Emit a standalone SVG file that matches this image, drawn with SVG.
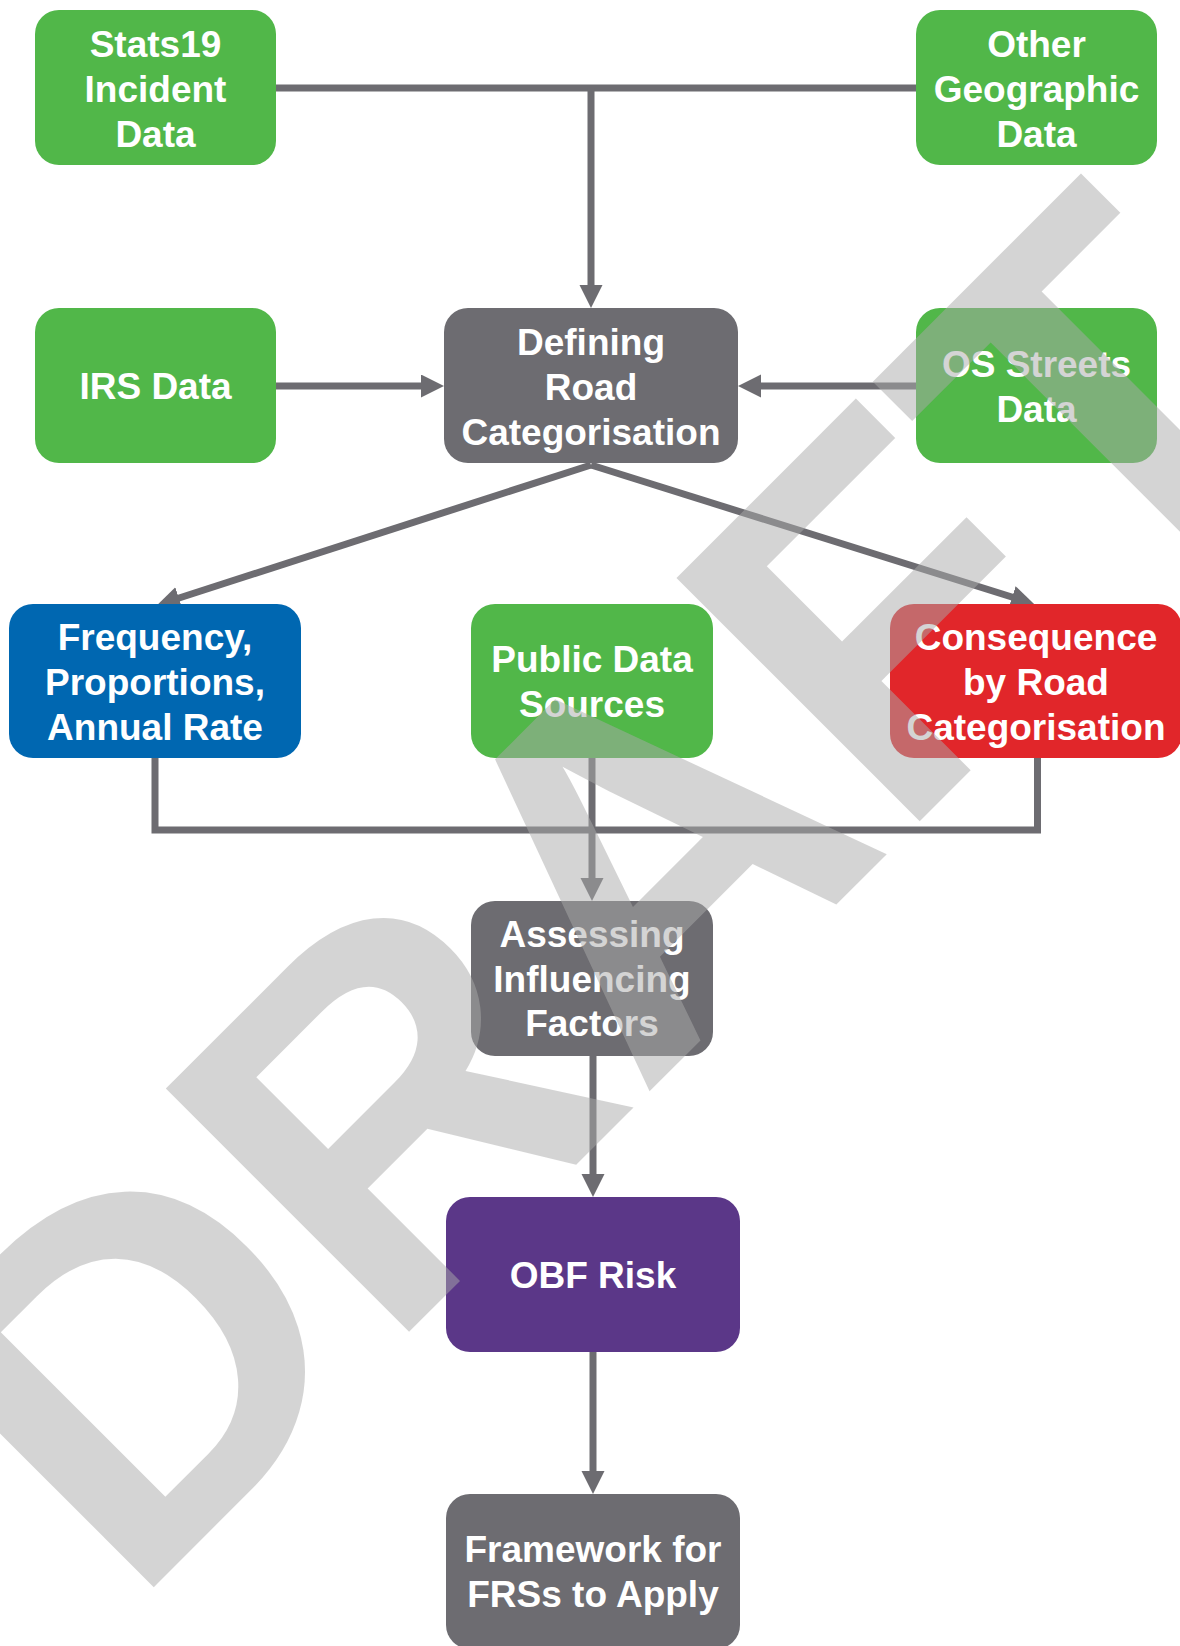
<svg xmlns="http://www.w3.org/2000/svg" width="1180" height="1646" viewBox="0 0 1180 1646">
<style>
.box{stroke:none}
.green{fill:#51b749}
.gray{fill:#6d6c71}
.blue{fill:#0067b1}
.red{fill:#e1262a}
.purple{fill:#5b3788}
.lbl{font-family:"Liberation Sans",Arial,sans-serif;font-weight:bold;font-size:37px;fill:#ffffff;text-anchor:middle}
.conn{fill:none;stroke:#6d6c71;stroke-width:7}
.wm{font-family:"Liberation Sans",Arial,sans-serif;font-weight:bold;font-size:500px;fill:#a9a9a9;fill-opacity:0.5}
</style>
<defs>
<marker id="ah" markerUnits="userSpaceOnUse" markerWidth="24" markerHeight="24" refX="3" refY="11.5" orient="auto">
<path d="M0,0 L23,11.5 L0,23 z" fill="#6d6c71"/>
</marker>
</defs>
<rect width="1180" height="1646" fill="#ffffff"/>
<g id="connectors">
<path class="conn" d="M276,88 H916"/>
<path class="conn" d="M591,88 V288" marker-end="url(#ah)"/>
<path class="conn" d="M276,386 H424" marker-end="url(#ah)"/>
<path class="conn" d="M916,386 H758" marker-end="url(#ah)"/>
<path class="conn" d="M591,465 L176,599" marker-end="url(#ah)"/>
<path class="conn" d="M591,465 L1015,598" marker-end="url(#ah)"/>
<path class="conn" d="M155,758 V830 H1037.5 V758"/>
<path class="conn" d="M592,758 V881" marker-end="url(#ah)"/>
<path class="conn" d="M593,1056 V1177" marker-end="url(#ah)"/>
<path class="conn" d="M593,1352 V1474" marker-end="url(#ah)"/>
</g>
<g id="stats19">
<rect class="box green" x="35" y="10" width="241" height="155" rx="24"/>
<text class="lbl" x="155.5" y="57">Stats19</text>
<text class="lbl" x="155.5" y="102">Incident</text>
<text class="lbl" x="155.5" y="147">Data</text>
</g>
<g id="other-geographic">
<rect class="box green" x="916" y="10" width="241" height="155" rx="24"/>
<text class="lbl" x="1036.5" y="57">Other</text>
<text class="lbl" x="1036.5" y="102">Geographic</text>
<text class="lbl" x="1036.5" y="147">Data</text>
</g>
<g id="irs-data">
<rect class="box green" x="35" y="308" width="241" height="155" rx="24"/>
<text class="lbl" x="155.5" y="399">IRS Data</text>
</g>
<g id="defining-road">
<rect class="box gray" x="444" y="308" width="294" height="155" rx="24"/>
<text class="lbl" x="591" y="355">Defining</text>
<text class="lbl" x="591" y="400">Road</text>
<text class="lbl" x="591" y="445">Categorisation</text>
</g>
<g id="os-streets">
<rect class="box green" x="916" y="308" width="241" height="155" rx="24"/>
<text class="lbl" x="1036.5" y="377">OS Streets</text>
<text class="lbl" x="1036.5" y="422">Data</text>
</g>
<g id="frequency">
<rect class="box blue" x="9" y="604" width="292" height="154" rx="24"/>
<text class="lbl" x="155" y="650">Frequency,</text>
<text class="lbl" x="155" y="695">Proportions,</text>
<text class="lbl" x="155" y="740">Annual Rate</text>
</g>
<g id="public-data">
<rect class="box green" x="471" y="604" width="242" height="154" rx="24"/>
<text class="lbl" x="592" y="672">Public Data</text>
<text class="lbl" x="592" y="717">Sources</text>
</g>
<g id="consequence">
<rect class="box red" x="890" y="604" width="292" height="154" rx="24"/>
<text class="lbl" x="1036" y="650">Consequence</text>
<text class="lbl" x="1036" y="695">by Road</text>
<text class="lbl" x="1036" y="740">Categorisation</text>
</g>
<g id="assessing">
<rect class="box gray" x="471" y="901" width="242" height="155" rx="24"/>
<text class="lbl" x="592" y="947">Assessing</text>
<text class="lbl" x="592" y="992">Influencing</text>
<text class="lbl" x="592" y="1036">Factors</text>
</g>
<g id="obf-risk">
<rect class="box purple" x="446" y="1197" width="294" height="155" rx="24"/>
<text class="lbl" x="593" y="1288">OBF Risk</text>
</g>
<g id="framework">
<rect class="box gray" x="446" y="1494" width="294" height="155" rx="24"/>
<text class="lbl" x="593" y="1562">Framework for</text>
<text class="lbl" x="593" y="1607">FRSs to Apply</text>
</g>
<g id="watermark">
<text class="wm" x="-1047" y="1231" transform="rotate(-45)">DRAFT</text>
</g>
</svg>
